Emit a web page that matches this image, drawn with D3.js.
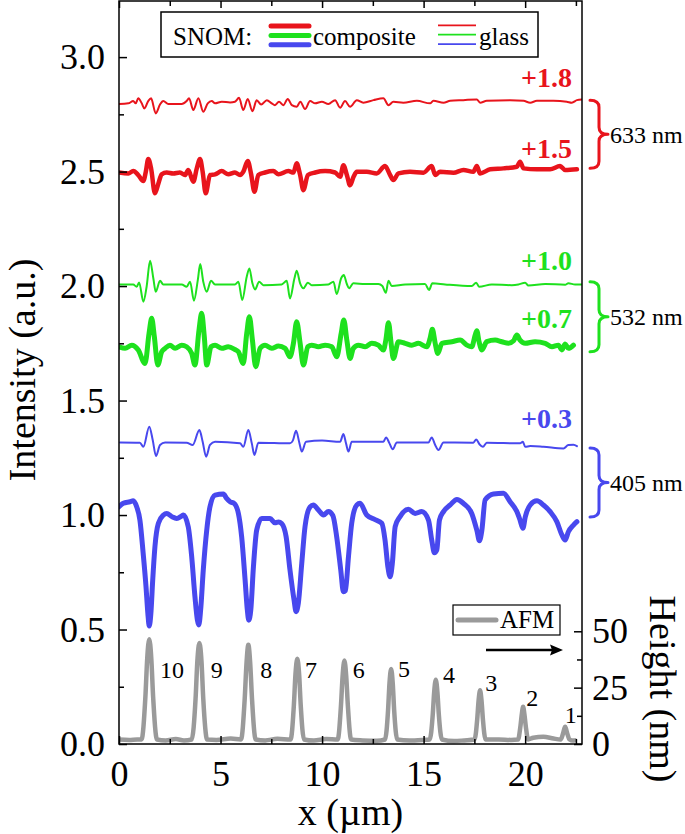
<!DOCTYPE html>
<html><head><meta charset="utf-8">
<script src="https://cdn.jsdelivr.net/npm/d3@7/dist/d3.min.js"></script>
<style>
html,body{margin:0;padding:0;background:#fff;}
svg{display:block;}
svg text{font-family:"Liberation Serif","Times New Roman",serif !important;}
</style></head>
<body>
<script>
// ---------------- DATA ----------------
const xTicks = [0, 5, 10, 15, 20];
const xMinorTicks = [2.5, 7.5, 12.5, 17.5, 22.5];
const yTicks = [0, 0.5, 1.0, 1.5, 2.0, 2.5, 3.0];
const yMinorTicks = [0.25, 0.75, 1.25, 1.75, 2.25, 2.75];
const hTicks = [0, 25, 50];
const hMinorTicks = [12.5, 37.5];

const redGlass = [[0.0,2.795],[0.46,2.798],[0.70,2.808],[0.82,2.798],[0.95,2.820],[1.12,2.798],[1.25,2.776],[1.44,2.808],[1.58,2.820],[1.81,2.754],[2.02,2.793],[2.18,2.808],[2.43,2.795],[3.09,2.795],[3.33,2.808],[3.45,2.820],[3.66,2.769],[3.91,2.820],[4.15,2.761],[4.37,2.798],[4.57,2.808],[4.73,2.798],[5.06,2.805],[5.47,2.802],[5.71,2.805],[5.91,2.822],[6.12,2.769],[6.34,2.817],[6.57,2.764],[6.78,2.812],[7.00,2.793],[7.28,2.812],[7.52,2.798],[7.68,2.790],[7.88,2.805],[8.09,2.790],[8.31,2.817],[8.51,2.790],[8.75,2.783],[8.93,2.805],[9.16,2.773],[9.41,2.808],[9.66,2.798],[9.99,2.805],[10.31,2.795],[10.64,2.812],[10.89,2.779],[11.13,2.808],[11.38,2.783],[11.71,2.812],[12.03,2.801],[12.53,2.812],[13.02,2.820],[13.27,2.790],[13.51,2.805],[14.00,2.801],[14.67,2.809],[15.32,2.798],[15.48,2.809],[15.98,2.801],[16.31,2.809],[16.96,2.812],[17.62,2.815],[17.78,2.801],[18.11,2.809],[19.26,2.812],[19.92,2.809],[20.25,2.801],[20.58,2.809],[21.39,2.809],[22.05,2.805],[22.30,2.801],[22.55,2.812],[22.79,2.815]];

const redComposite = [[0.0,2.496],[0.46,2.492],[0.70,2.502],[0.95,2.485],[1.20,2.459],[1.32,2.499],[1.44,2.555],[1.58,2.514],[1.77,2.405],[1.94,2.448],[2.10,2.488],[2.35,2.496],[2.67,2.492],[3.00,2.496],[3.25,2.485],[3.41,2.507],[3.66,2.456],[3.83,2.514],[3.99,2.555],[4.12,2.499],[4.27,2.405],[4.48,2.485],[4.73,2.488],[5.06,2.502],[5.38,2.488],[5.71,2.496],[5.96,2.485],[6.12,2.499],[6.34,2.546],[6.50,2.492],[6.67,2.412],[6.86,2.485],[7.19,2.496],[7.60,2.502],[7.85,2.488],[8.34,2.502],[8.59,2.496],[8.75,2.536],[8.92,2.485],[9.08,2.419],[9.30,2.485],[9.66,2.496],[10.15,2.502],[10.64,2.496],[10.89,2.477],[11.05,2.528],[11.22,2.485],[11.38,2.440],[11.55,2.477],[11.71,2.499],[12.20,2.499],[12.69,2.492],[13.10,2.524],[13.35,2.485],[13.51,2.463],[13.76,2.492],[14.33,2.499],[14.99,2.495],[15.40,2.524],[15.57,2.485],[15.81,2.499],[16.47,2.495],[16.96,2.507],[17.45,2.499],[17.62,2.524],[17.78,2.492],[18.28,2.510],[18.93,2.514],[19.59,2.521],[19.75,2.543],[19.92,2.514],[20.58,2.510],[21.23,2.510],[21.72,2.524],[21.97,2.507],[22.55,2.510]];

const greenGlass = [[0.0,2.007],[0.70,2.007],[0.87,1.997],[0.99,2.016],[1.20,1.932],[1.36,1.997],[1.53,2.111],[1.69,2.034],[1.81,1.975],[2.02,2.023],[2.18,2.007],[3.09,2.007],[3.33,1.997],[3.50,2.019],[3.69,1.936],[3.88,2.026],[4.00,2.096],[4.15,2.019],[4.32,1.975],[4.53,2.023],[4.73,2.007],[5.71,2.007],[5.88,2.019],[6.07,1.939],[6.29,2.041],[6.42,2.077],[6.57,2.012],[6.70,1.985],[6.90,2.019],[7.11,2.004],[8.01,2.007],[8.26,2.023],[8.42,1.946],[8.64,2.034],[8.75,2.067],[8.92,2.012],[9.08,1.990],[9.30,2.015],[9.49,2.004],[10.31,2.007],[10.56,2.019],[10.72,1.965],[10.94,2.034],[11.07,2.048],[11.22,2.009],[11.33,1.990],[11.54,2.012],[12.12,2.009],[12.77,2.009],[12.97,2.000],[13.14,1.971],[13.27,2.023],[13.43,2.000],[14.09,2.007],[15.07,2.009],[15.27,1.983],[15.43,2.012],[16.06,2.007],[17.37,2.000],[17.59,2.015],[17.73,1.997],[18.36,2.007],[19.34,2.004],[19.67,2.007],[20.00,2.015],[20.16,2.002],[20.99,2.009],[21.97,2.006],[22.13,2.012],[22.46,2.007],[22.79,2.007]];

const greenComposite = [[0.0,1.735],[0.30,1.728],[0.63,1.742],[0.95,1.721],[1.28,1.662],[1.48,1.793],[1.61,1.859],[1.74,1.779],[1.91,1.655],[2.10,1.713],[2.27,1.728],[2.51,1.742],[2.76,1.728],[3.09,1.742],[3.33,1.735],[3.58,1.706],[3.74,1.655],[3.94,1.808],[4.07,1.881],[4.20,1.779],[4.32,1.655],[4.53,1.735],[4.73,1.742],[5.06,1.728],[5.38,1.735],[5.71,1.723],[5.88,1.713],[6.12,1.662],[6.29,1.793],[6.42,1.866],[6.57,1.764],[6.73,1.648],[6.95,1.728],[7.19,1.742],[7.52,1.728],[7.85,1.738],[8.18,1.728],[8.42,1.691],[8.59,1.750],[8.75,1.844],[8.92,1.750],[9.08,1.655],[9.30,1.735],[9.49,1.742],[9.82,1.735],[10.15,1.742],[10.48,1.735],[10.72,1.691],[10.94,1.793],[11.07,1.852],[11.22,1.764],[11.38,1.684],[11.54,1.728],[11.79,1.742],[12.12,1.735],[12.45,1.750],[12.77,1.742],[13.02,1.721],[13.14,1.764],[13.27,1.840],[13.40,1.750],[13.51,1.684],[13.76,1.757],[14.09,1.750],[14.42,1.742],[14.74,1.750],[15.16,1.735],[15.32,1.772],[15.43,1.811],[15.57,1.750],[15.70,1.706],[15.90,1.750],[16.39,1.757],[16.80,1.764],[17.13,1.742],[17.37,1.735],[17.54,1.786],[17.62,1.805],[17.73,1.757],[17.87,1.721],[18.11,1.757],[18.52,1.764],[18.85,1.757],[19.18,1.750],[19.43,1.761],[19.59,1.786],[19.75,1.764],[20.00,1.750],[20.49,1.757],[20.99,1.750],[21.32,1.735],[21.64,1.742],[21.81,1.721],[21.97,1.747],[22.13,1.728],[22.38,1.742]];

const blueGlass = [[0.05,1.317],[1.03,1.316],[1.20,1.298],[1.49,1.386],[1.66,1.328],[1.82,1.258],[2.02,1.306],[2.27,1.317],[3.33,1.316],[3.63,1.306],[3.96,1.371],[4.12,1.320],[4.29,1.255],[4.48,1.306],[4.73,1.320],[5.96,1.313],[6.12,1.298],[6.37,1.371],[6.54,1.313],[6.67,1.262],[6.86,1.316],[8.42,1.313],[8.56,1.325],[8.72,1.368],[8.88,1.316],[9.00,1.277],[9.21,1.320],[10.00,1.325],[10.89,1.320],[11.05,1.354],[11.18,1.313],[11.30,1.277],[11.46,1.320],[13.02,1.320],[13.15,1.339],[13.32,1.313],[13.48,1.287],[13.68,1.317],[15.24,1.317],[15.40,1.339],[15.57,1.306],[15.73,1.284],[15.98,1.317],[17.45,1.316],[17.59,1.330],[17.75,1.309],[17.92,1.298],[18.11,1.316],[19.75,1.313],[19.89,1.320],[20.00,1.298],[20.25,1.301],[20.90,1.298],[21.89,1.291],[22.13,1.306],[22.38,1.307],[22.55,1.301]];

const blueComposite = [[0.0,1.036],[0.21,1.051],[0.54,1.058],[0.70,1.062],[0.87,1.036],[1.03,0.978],[1.19,0.833],[1.33,0.687],[1.42,0.571],[1.49,0.515],[1.57,0.571],[1.66,0.716],[1.77,0.862],[1.94,0.964],[2.19,1.000],[2.35,1.007],[2.60,0.993],[2.84,0.985],[3.09,0.996],[3.17,1.000],[3.41,0.949],[3.58,0.818],[3.74,0.643],[3.86,0.541],[3.93,0.520],[4.02,0.585],[4.15,0.760],[4.32,0.934],[4.48,1.036],[4.73,1.087],[5.14,1.092],[5.30,1.073],[5.47,1.058],[5.67,1.051],[5.88,1.007],[6.04,0.905],[6.21,0.716],[6.32,0.585],[6.39,0.541],[6.49,0.585],[6.62,0.774],[6.78,0.934],[7.03,0.985],[7.44,0.985],[7.68,0.966],[7.85,0.970],[8.01,0.963],[8.23,0.905],[8.42,0.760],[8.62,0.629],[8.72,0.578],[8.83,0.614],[9.00,0.789],[9.16,0.949],[9.41,1.036],[9.57,1.044],[9.82,1.022],[10.07,1.000],[10.31,1.015],[10.53,0.998],[10.72,0.905],[10.92,0.760],[11.05,0.665],[11.15,0.670],[11.30,0.818],[11.46,0.964],[11.71,1.044],[11.87,1.051],[12.20,1.000],[12.61,0.980],[12.94,0.964],[13.10,0.891],[13.24,0.774],[13.35,0.730],[13.46,0.789],[13.60,0.949],[13.84,0.993],[14.25,1.025],[14.58,1.007],[14.91,1.015],[15.24,0.978],[15.40,0.891],[15.53,0.835],[15.65,0.847],[15.78,0.978],[15.98,1.015],[16.31,1.044],[16.64,1.068],[16.96,1.051],[17.37,1.007],[17.62,0.934],[17.75,0.888],[17.87,0.934],[18.03,1.066],[18.44,1.092],[18.93,1.095],[19.26,1.058],[19.59,1.015],[19.75,0.978],[19.89,0.942],[20.01,0.993],[20.25,1.044],[20.58,1.062],[20.90,1.044],[21.23,1.015],[21.56,0.971],[21.81,0.913],[21.97,0.891],[22.13,0.927],[22.38,0.956],[22.55,0.971]];

const afmHeight = [[0.0,2.0],[0.5,1.8],[0.9,2.0],
[1.11,2],[1.30,21],[1.39,38],[1.49,46.5],[1.59,38],[1.68,21],[1.87,2],
[2.3,1.6],[2.8,2.2],[3.2,1.6],
[3.58,2],[3.77,20],[3.86,37],[3.96,44.8],[4.06,37],[4.15,20],[4.34,2],
[4.8,1.8],[5.5,2.4],
[6.01,2],[6.19,20],[6.28,36],[6.37,44],[6.46,36],[6.55,20],[6.73,2],
[7.2,1.6],[7.8,2.3],
[8.45,2],[8.61,17],[8.69,31],[8.78,37.8],[8.87,31],[8.95,17],[9.11,2],
[9.6,1.5],[10.2,2.2],
[10.77,2],[10.93,17],[11.01,30],[11.10,37],[11.19,30],[11.27,17],[11.43,2],
[12.0,1.6],[12.7,1.4],
[13.10,2],[13.25,15],[13.32,27],[13.40,33.3],[13.48,27],[13.55,15],[13.70,2],
[14.3,1.5],[15.0,1.8],
[15.30,2],[15.45,13],[15.52,23],[15.60,28.5],[15.68,23],[15.75,13],[15.90,2],
[16.5,1.3],[17.0,1.6],
[17.51,2],[17.64,11],[17.71,19.5],[17.78,23.8],[17.85,19.5],[17.92,11],[18.05,2],
[18.7,2.0],[19.3,1.8],
[19.65,2],[19.77,8],[19.84,13.5],[19.90,16.5],[19.96,13.5],[20.03,8],[20.15,2],
[20.4,2.8],[20.9,3.2],[21.4,2.4],
[21.75,2],[21.86,4.5],[21.92,6.5],[21.97,7.7],[22.02,6.5],[22.08,4.5],[22.19,2],
[22.35,1.5],[22.45,1.6]];

// peak numbering labels (position in data units: x in µm, height in nm)
const peakLabels = ["10","9","8","7","6","5","4","3","2","1"];
const peakLabelX = [2.02, 4.52, 6.95, 9.16, 11.51, 13.74, 15.96, 18.03, 20.05, 21.95];
const peakLabelH = [29.3, 29.3, 29.3, 29.3, 29.3, 29.7, 27.1, 23.5, 16.9, 9.3];

// offset labels
const offsetLabels = ["+1.8", "+1.5", "+1.0", "+0.7", "+0.3"];
const offsetLabelY = [2.870, 2.559, 2.070, 1.817, 1.380];
const offsetColors = ["red", "red", "green", "green", "blue"];

// wavelength braces
const wavelengths = ["633 nm", "532 nm", "405 nm"];
const braceTop = [2.812, 2.019, 1.293];
const braceBottom = [2.515, 1.713, 0.991];
const braceColors = ["red", "green", "blue"];

// ---------------- STYLE ----------------
const FONT = '"Liberation Serif","Times New Roman",serif';
const C = {red: "#e8141c", green: "#1ee11e", blue: "#4848ee", gray: "#9a9a9a"};
const W = 685, H = 834;
const L = 119, R = 582, T = 1, B = 744;

const svg = d3.select("body").append("svg").attr("width", W).attr("height", H)
  .attr("font-family", FONT);

const x = d3.scaleLinear().domain([0, 22.8]).range([L, R]);
const y = d3.scaleLinear().domain([0, 3.245]).range([B, T]);
const yH = d3.scaleLinear().domain([0, 329.6]).range([B, T]);

svg.append("defs").append("clipPath").attr("id", "clip")
  .append("rect").attr("x", L).attr("y", T).attr("width", R - L).attr("height", B - T);

const plot = svg.append("g").attr("clip-path", "url(#clip)");

const lineI = d3.line().x(d => x(d[0])).y(d => y(d[1])).curve(d3.curveMonotoneX);
const lineH = d3.line().x(d => x(d[0])).y(d => yH(d[1])).curve(d3.curveMonotoneX);

function drawLine(data, gen, color, width) {
  plot.append("path").datum(data).attr("d", gen)
    .attr("fill", "none").attr("stroke", color).attr("stroke-width", width)
    .attr("stroke-linejoin", "round").attr("stroke-linecap", "round");
}

drawLine(afmHeight, lineH, C.gray, 4.5);
drawLine(blueComposite, lineI, C.blue, 5);
drawLine(blueGlass, lineI, C.blue, 2);
drawLine(greenComposite, lineI, C.green, 5);
drawLine(greenGlass, lineI, C.green, 2);
drawLine(redComposite, lineI, C.red, 4.5);
drawLine(redGlass, lineI, C.red, 2);

// ---------------- AXES ----------------
const fontTick = 36;
function styleAxis(g) {
  g.attr("font-family", FONT);
  g.select(".domain").remove();
  g.selectAll("line").attr("stroke", "#000").attr("stroke-width", 1.5);
  g.selectAll("text").attr("font-size", fontTick).attr("fill", "#000")
    .attr("font-family", FONT);
}

svg.append("g").attr("transform", `translate(${L},0)`)
  .call(d3.axisLeft(y).tickValues(yTicks).tickFormat(d3.format(".1f")).tickSizeInner(-8).tickSizeOuter(0).tickPadding(14))
  .call(styleAxis);
svg.append("g").attr("transform", `translate(${L},0)`)
  .call(d3.axisLeft(y).tickValues(yMinorTicks).tickFormat("").tickSizeInner(-5).tickSizeOuter(0))
  .call(styleAxis);

svg.append("g").attr("transform", `translate(0,${B})`)
  .call(d3.axisBottom(x).tickValues(xTicks).tickFormat(d3.format("d")).tickSizeInner(-8).tickSizeOuter(0).tickPadding(16))
  .call(styleAxis);
svg.append("g").attr("transform", `translate(0,${B})`)
  .call(d3.axisBottom(x).tickValues(xMinorTicks).tickFormat("").tickSizeInner(-5).tickSizeOuter(0))
  .call(styleAxis);

svg.append("g").attr("transform", `translate(0,${T})`)
  .call(d3.axisTop(x).tickValues(xTicks).tickFormat("").tickSizeInner(-7).tickSizeOuter(0))
  .call(styleAxis);
svg.append("g").attr("transform", `translate(0,${T})`)
  .call(d3.axisTop(x).tickValues(xMinorTicks).tickFormat("").tickSizeInner(-5).tickSizeOuter(0))
  .call(styleAxis);

svg.append("g").attr("transform", `translate(${R},0)`)
  .call(d3.axisRight(yH).tickValues(hTicks).tickFormat(d3.format("d")).tickSizeInner(-8).tickSizeOuter(0).tickPadding(10))
  .call(styleAxis);
svg.append("g").attr("transform", `translate(${R},0)`)
  .call(d3.axisRight(yH).tickValues(hMinorTicks).tickFormat("").tickSizeInner(-5).tickSizeOuter(0))
  .call(styleAxis);

// frame
svg.append("rect").attr("x", L).attr("y", T).attr("width", R - L).attr("height", B - T)
  .attr("fill", "none").attr("stroke", "#000").attr("stroke-width", 1.5);

function txt(parent) {
  return parent.append("text").attr("font-family", FONT).attr("fill", "#000");
}

// axis titles
txt(svg).attr("x", (L + R) / 2).attr("y", 825).attr("text-anchor", "middle")
  .attr("font-size", 38).text("x (µm)");
txt(svg).attr("transform", "translate(35,370) rotate(-90)").attr("text-anchor", "middle")
  .attr("font-size", 38).text("Intensity (a.u.)");
txt(svg).attr("transform", "translate(650,689) rotate(90)").attr("text-anchor", "middle")
  .attr("font-size", 38).text("Height (nm)");

// ---------------- ANNOTATIONS ----------------
offsetLabels.forEach((t, i) => {
  txt(svg).attr("x", 572).attr("y", y(offsetLabelY[i])).attr("text-anchor", "end")
    .attr("font-size", 28).attr("font-weight", "bold").attr("fill", C[offsetColors[i]]).text(t);
});

wavelengths.forEach((t, i) => {
  const yt = y(braceTop[i]), yb = y(braceBottom[i]), ym = (yt + yb) / 2;
  const xl = 590, xm = 599, xr = 608, r = 7;
  const p = `M${xl},${yt} Q${xm},${yt} ${xm},${yt + r} L${xm},${ym - r} Q${xm},${ym} ${xr},${ym} ` +
            `Q${xm},${ym} ${xm},${ym + r} L${xm},${yb - r} Q${xm},${yb} ${xl},${yb}`;
  svg.append("path").attr("d", p).attr("fill", "none").attr("stroke", C[braceColors[i]])
    .attr("stroke-width", 3).attr("stroke-linejoin", "round").attr("stroke-linecap", "round");
  txt(svg).attr("x", 610).attr("y", ym + 8.5).attr("font-size", 24).text(t);
});

peakLabels.forEach((t, i) => {
  txt(svg).attr("x", x(peakLabelX[i])).attr("y", yH(peakLabelH[i]))
    .attr("font-size", 24).text(t);
});

// SNOM legend
const lg = svg.append("g");
lg.append("rect").attr("x", 161).attr("y", 12).attr("width", 377).attr("height", 45)
  .attr("fill", "#fff").attr("stroke", "#000").attr("stroke-width", 1.5);
txt(lg).attr("x", 173).attr("y", 45).attr("font-size", 25).text("SNOM:");
["red", "green", "blue"].forEach((c, i) => {
  lg.append("line").attr("x1", 271).attr("x2", 309).attr("y1", 26 + i * 9.4).attr("y2", 26 + i * 9.4)
    .attr("stroke", C[c]).attr("stroke-width", 5).attr("stroke-linecap", "round");
  lg.append("line").attr("x1", 438).attr("x2", 476).attr("y1", 25.3 + i * 9.4).attr("y2", 25.3 + i * 9.4)
    .attr("stroke", C[c]).attr("stroke-width", 1.8);
});
txt(lg).attr("x", 313).attr("y", 45).attr("font-size", 25).text("composite");
txt(lg).attr("x", 479).attr("y", 45).attr("font-size", 25).text("glass");

// AFM legend
const ag = svg.append("g");
ag.append("rect").attr("x", 453).attr("y", 605).attr("width", 107).attr("height", 30)
  .attr("fill", "#fff").attr("stroke", "#000").attr("stroke-width", 1.2);
ag.append("line").attr("x1", 458).attr("x2", 496).attr("y1", 620).attr("y2", 620)
  .attr("stroke", C.gray).attr("stroke-width", 5).attr("stroke-linecap", "round");
txt(ag).attr("x", 500).attr("y", 628).attr("font-size", 25).text("AFM");

// arrow
ag.append("line").attr("x1", 486).attr("x2", 553).attr("y1", 650).attr("y2", 650)
  .attr("stroke", "#000").attr("stroke-width", 2.5);
ag.append("path").attr("d", "M563,650 L550,644.5 L552,650 L550,655.5 Z").attr("fill", "#000");
</script>
</body></html>
